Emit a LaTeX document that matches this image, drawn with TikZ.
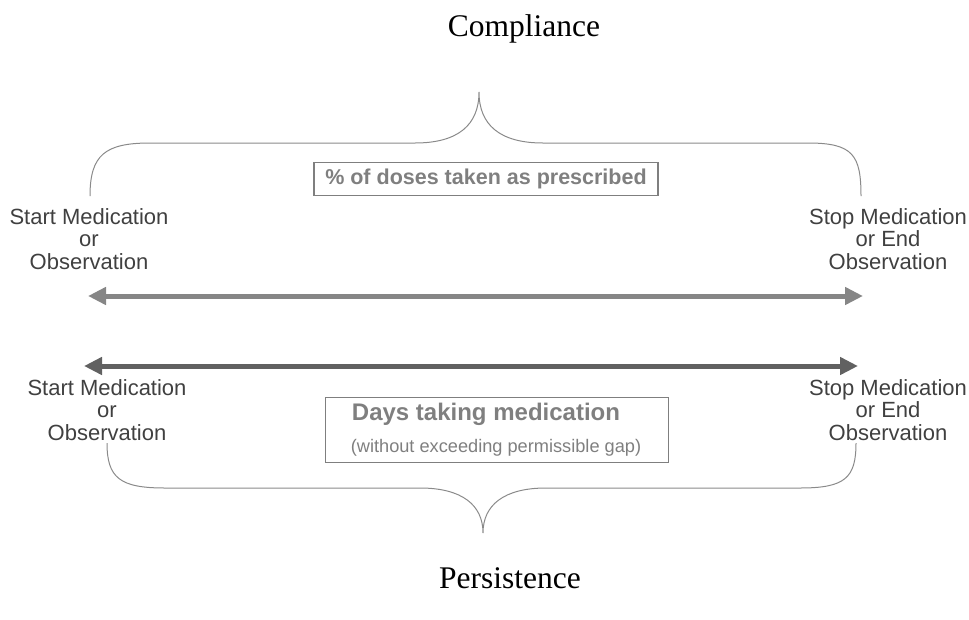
\documentclass[tikz,border=0pt]{standalone}
\usepackage{fontspec}
\setmainfont{Liberation Serif}
\newfontfamily\arialfont{Liberation Sans}
\usetikzlibrary{arrows.meta, positioning}
\definecolor{labelgray}{HTML}{404040}
\definecolor{boxgray}{HTML}{7F7F7F}
\definecolor{bracegray}{HTML}{8A8A8A}
\tikzset{
	title/.style={font=\fontsize{31.5}{34}\selectfont, text=black}, % Compliance / Persistence
	endlabel/.style={align=center, text=labelgray, inner sep=0pt,
		font=\arialfont\fontsize{22}{22.6}\selectfont}, % start / stop labels
	infobox/.style={draw=boxgray, line width=1.1pt, text=boxgray, align=center}, % the boxes
	brace/.style={draw=bracegray, line width=1pt}, % curly braces
	timeline/.style={line width=5pt, {Triangle[length=18pt,width=17pt]}-{Triangle[length=18pt,width=17pt]}},
}

\begin{document}
\begin{tikzpicture}[x=1pt, y=-1pt]
	\useasboundingbox (0,0) rectangle (969,619);

	% compliance (top half)
	\node[title] (comp) at (524,29) {Compliance};
	\node[infobox, minimum width=344pt, minimum height=33pt,
		font=\arialfont\bfseries\fontsize{21.5}{24}\selectfont] (doses) at (486,179) {\% of doses taken as prescribed};
	\node[endlabel] (startA) at (89,239) {Start Medication\\or\\Observation};
	\node[endlabel] (stopA) at (888,239) {Stop Medication\\or End\\Observation};

	\coordinate (braceAl) at (90,196);
	\coordinate (braceAr) at (861,196);
	\coordinate (braceAt) at (479,92);
	\draw[brace] (braceAl) .. controls (90,155) and (105,143) .. (150,143)
		-- (415,143) .. controls (458,143) and (479,125) .. (braceAt)
		.. controls (479,125) and (500,143) .. (543,143)
		-- (808,143) .. controls (853,143) and (861,155) .. (braceAr);

	\coordinate (arrAl) at (88,296);
	\coordinate (arrAr) at (863,296);
	\draw[timeline, draw=gray!95, fill=gray!95] (arrAl) -- (arrAr);

	% persistence (bottom half)
	\coordinate (arrBl) at (84,366);
	\coordinate (arrBr) at (858,366);
	\draw[timeline, draw=black!62, fill=black!62] (arrBl) -- (arrBr);

	\node[endlabel] (startB) at (107,410) {Start Medication\\or\\Observation};
	\node[endlabel] (stopB) at (888,410) {Stop Medication\\or End\\Observation};
	\node[infobox, minimum width=343pt, minimum height=65pt, inner sep=0pt] (days) at (497,430) {};
	\node[text=boxgray, font=\arialfont\bfseries\fontsize{24}{26}\selectfont] (daysT) at (486,414) {Days taking medication};
	\node[text=boxgray, font=\arialfont\fontsize{18.2}{20}\selectfont] (gapT) at (496,448) {(without exceeding permissible gap)};

	\coordinate (braceBl) at (107,443);
	\coordinate (braceBr) at (856,443);
	\coordinate (braceBt) at (483,533);
	\draw[brace] (braceBl) .. controls (107,478) and (120,488) .. (165,488)
		-- (420,488) .. controls (462,488) and (483,505) .. (braceBt)
		.. controls (483,505) and (504,488) .. (546,488)
		-- (800,488) .. controls (845,488) and (856,478) .. (braceBr);
	\node[title] (pers) at (510,578) {Persistence};
\end{tikzpicture}
\end{document}
